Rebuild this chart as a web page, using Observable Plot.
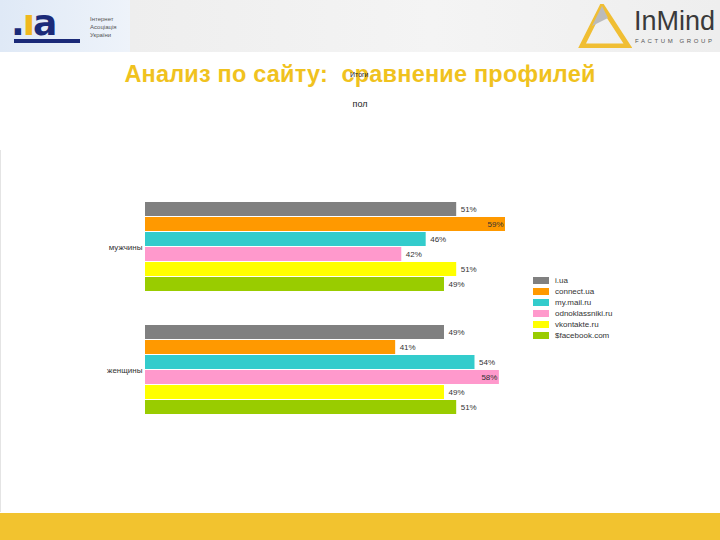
<!DOCTYPE html>
<html><head><meta charset="utf-8">
<script src="https://cdn.jsdelivr.net/npm/d3@7"></script>
<script src="https://cdn.jsdelivr.net/npm/@observablehq/plot@0.6"></script>
<style>
html,body{margin:0;padding:0;background:#fff;}
#page{position:relative;width:720px;height:540px;overflow:hidden;font-family:"Liberation Sans",Arial,sans-serif;}
#header{position:absolute;left:0;top:0;width:720px;height:52px;background:linear-gradient(90deg,#dfe9f6 0,#eef3fa 130px,#eeeeee 130px,#f4f4f4 60%,#eeeeee 100%);}
#title{position:absolute;left:0;width:720px;top:61px;text-align:center;color:#F0C21E;font-weight:bold;font-size:23.5px;letter-spacing:0.2px;}
#sub{position:absolute;left:0;width:720px;top:99px;text-align:center;font-size:9px;color:#222;}
#over{position:absolute;left:350px;top:71px;font-size:7px;color:#222;}
#chart{position:absolute;left:100px;top:189px;}
#legend{position:absolute;left:533px;top:275px;font-size:8px;color:#333;line-height:11px;}
#legend div{display:flex;align-items:center;height:11px;}
#legend span.sw{display:inline-block;width:16px;height:7px;margin-right:6px;}
#footer{position:absolute;left:0;top:513px;width:720px;height:27px;background:#F2C32F;}
#lline{position:absolute;left:0;top:150px;width:1px;height:362px;background:#e4e4e4;}
</style></head>
<body><div id="page">
<div id="header">
  <div style="position:absolute;left:11px;top:6px;line-height:34px;font-family:'DejaVu Sans',sans-serif;font-weight:bold;font-size:36px;color:#1b2a78;letter-spacing:-2px;">.<span style="color:#F0B81E">ı</span>a</div>
  <div style="position:absolute;left:14px;top:39px;width:66px;height:4px;background:#1b2a78;"></div>
  <div style="position:absolute;left:90px;top:15px;font-size:6px;line-height:8px;color:#555;">Інтернет<br>Асоціація<br>України</div>
  <svg style="position:absolute;left:578px;top:4px" width="54" height="44"><polygon points="24,2 4,42 50,42" fill="none" stroke="#F0B81E" stroke-width="5" opacity="0.9"/><polygon points="24,2 14,22 30,14" fill="#bbb"/></svg>
  <div style="position:absolute;left:634px;top:6px;font-size:27px;color:#3a3a3a;">InMind</div>
  <div style="position:absolute;left:635px;top:38px;font-size:6px;letter-spacing:2.6px;color:#555;">FACTUM GROUP</div>
</div>
<div id="title">Анализ по сайту:&nbsp; сравнение профилей</div>
<div id="over">Итоги</div>
<div id="sub">пол</div>
<div id="lline"></div>
<div id="chart"></div>
<div id="legend"></div>
<div id="footer"></div>
</div>
<script>
const genders = ["мужчины", "женщины"];
const sites = ["i.ua", "connect.ua", "my.mail.ru", "odnoklassniki.ru", "vkontakte.ru", "$facebook.com"];
const colors = ["#808080", "#FF9900", "#33CCCC", "#FF99CC", "#FFFF00", "#99CC00"];
const men =   [51, 59, 46, 42, 51, 49];
const women = [49, 41, 54, 58, 49, 51];

const data = [];
sites.forEach((s, i) => {
  data.push({gender: genders[0], site: s, value: men[i]});
  data.push({gender: genders[1], site: s, value: women[i]});
});
const fmt = d => d.value + "%";
const inside = d => d.value >= 58;

const chart = Plot.plot({
  width: 440, height: 238,
  marginLeft: 45, marginRight: 35, marginTop: 12, marginBottom: 10,
  style: {fontFamily: "'Liberation Sans', Arial, sans-serif", fontSize: "8px", color: "#333", background: "transparent"},
  x: {domain: [0, 59], range: [45, 405], axis: null},
  y: {domain: sites, padding: 0.05, axis: null},
  fy: {domain: genders, paddingInner: 0.25, paddingOuter: 0, label: null, tickSize: 0, tickPadding: 3, anchor: "left"},
  color: {domain: sites, range: colors},
  marks: [
    Plot.barX(data, {fy: "gender", y: "site", x: "value", fill: "site"}),
    Plot.text(data.filter(d => !inside(d)), {fy: "gender", y: "site", x: "value", text: fmt, textAnchor: "start", dx: 4, fill: "#333"}),
    Plot.text(data.filter(inside), {fy: "gender", y: "site", x: "value", text: fmt, textAnchor: "end", dx: -2, fill: "#333"})
  ]
});
document.getElementById("chart").appendChild(chart);

const lg = document.getElementById("legend");
sites.forEach((s, i) => {
  const row = document.createElement("div");
  row.innerHTML = `<span class="sw" style="background:${colors[i]}"></span>${s}`;
  lg.appendChild(row);
});
</script>
</body></html>
